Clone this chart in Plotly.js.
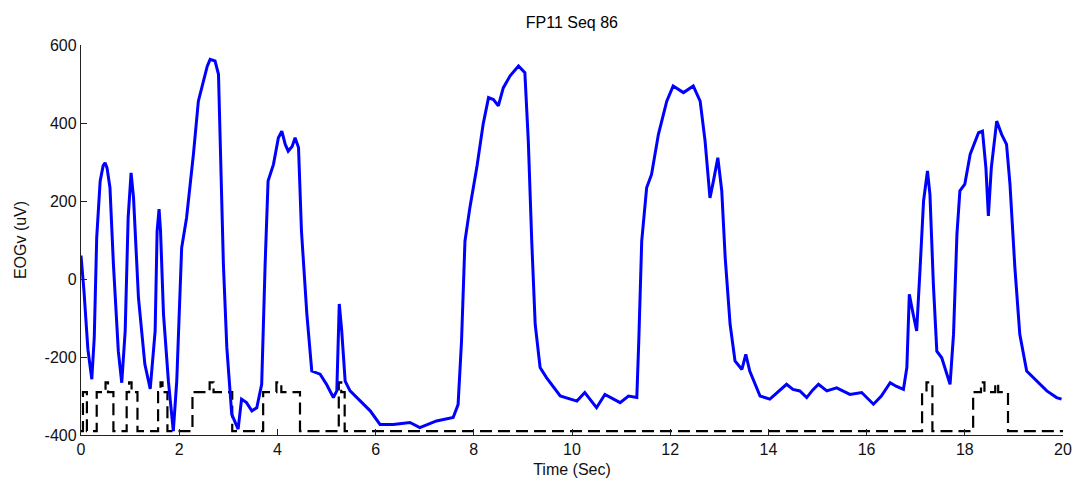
<!DOCTYPE html>
<html>
<head>
<meta charset="utf-8">
<script src="https://cdn.plot.ly/plotly-3.0.1.min.js"></script>
<style>html,body{margin:0;padding:0;background:#fff;}#chart{width:1077px;height:496px;}</style>
</head>
<body>
<div id="chart"></div>
<script>
// EOGv signal (blue)
const eogTime = [0.00,0.01,0.06,0.14,0.22,0.27,0.32,0.39,0.45,0.49,0.53,0.59,0.66,0.76,0.83,0.90,0.96,1.02,1.07,1.17,1.30,1.41,1.51,1.55,1.59,1.62,1.68,1.78,1.88,1.95,2.05,2.15,2.29,2.39,2.49,2.57,2.63,2.73,2.80,2.83,2.90,2.97,3.07,3.20,3.27,3.37,3.48,3.58,3.68,3.75,3.81,3.92,4.02,4.09,4.16,4.22,4.30,4.36,4.43,4.49,4.60,4.70,4.87,5.00,5.14,5.21,5.26,5.31,5.38,5.48,5.68,5.89,6.09,6.36,6.70,6.90,7.24,7.58,7.68,7.75,7.82,7.92,8.06,8.19,8.30,8.40,8.50,8.60,8.74,8.91,9.04,9.11,9.18,9.25,9.35,9.48,9.76,10.10,10.26,10.50,10.67,10.98,11.15,11.32,11.36,11.42,11.52,11.62,11.76,11.93,12.06,12.27,12.47,12.61,12.71,12.81,12.88,12.97,13.05,13.12,13.22,13.32,13.46,13.54,13.62,13.83,14.03,14.20,14.37,14.50,14.64,14.78,14.90,15.02,15.19,15.39,15.55,15.66,15.90,16.14,16.30,16.48,16.60,16.75,16.82,16.87,16.95,17.02,17.09,17.16,17.24,17.29,17.36,17.43,17.53,17.70,17.77,17.84,17.90,18.00,18.11,18.28,18.36,18.43,18.48,18.54,18.65,18.75,18.85,18.92,19.02,19.12,19.26,19.46,19.67,19.87,19.97];
const eogValue = [60,40,-30,-180,-257,-150,106,251,290,298,285,234,38,-185,-266,-133,157,272,208,-48,-218,-282,-133,123,179,123,-90,-262,-390,-262,80,157,320,456,508,545,563,559,525,379,38,-176,-347,-385,-308,-317,-338,-330,-270,38,251,294,362,379,345,328,340,362,337,123,-90,-236,-244,-270,-304,-287,-64,-133,-262,-287,-313,-338,-373,-373,-368,-381,-364,-355,-322,-159,97,183,285,397,465,460,444,490,521,546,529,354,97,-116,-227,-253,-300,-313,-291,-330,-296,-317,-300,-304,-159,97,234,268,371,456,495,478,495,456,354,208,251,311,226,55,-116,-210,-232,-193,-236,-300,-308,-290,-270,-283,-287,-304,-285,-270,-287,-279,-290,-296,-291,-321,-300,-266,-275,-283,-227,-39,-91,-133,29,200,277,217,-14,-185,-202,-270,-142,115,226,243,320,375,379,285,162,285,405,371,345,243,29,-142,-236,-262,-287,-304,-308];

// Stimulus / marker signal (black dashed step)
const markTime = [0,0.04,0.04,0.12,0.12,0.32,0.32,0.50,0.50,0.55,0.55,0.66,0.66,0.93,0.93,0.98,0.98,1.03,1.03,1.15,1.15,1.57,1.57,1.62,1.62,1.66,1.66,1.76,1.76,2.27,2.27,2.62,2.62,2.70,2.70,3.08,3.08,3.71,3.71,3.98,3.98,4.08,4.08,4.46,4.46,5.25,5.25,5.30,5.30,5.37,5.37,17.13,17.13,17.22,17.22,17.34,17.34,18.17,18.17,18.33,18.33,18.40,18.40,18.62,18.62,18.68,18.68,18.88,18.88,20];
const markValue = [-390,-390,-290,-290,-390,-390,-290,-290,-265,-265,-290,-290,-390,-390,-290,-290,-265,-265,-290,-290,-390,-390,-290,-290,-265,-265,-290,-290,-390,-390,-290,-290,-265,-265,-290,-290,-390,-390,-290,-290,-265,-265,-290,-290,-390,-390,-265,-265,-290,-290,-390,-390,-290,-290,-265,-265,-390,-390,-290,-290,-265,-265,-290,-290,-268,-268,-290,-290,-390,-390];

const xTicks = [0,2,4,6,8,10,12,14,16,18,20];
const yTicks = [-400,-200,0,200,400,600];
const titleText = "FP11 Seq 86";
const xTitle = "Time (Sec)";
const yTitle = "EOGv (uV)";

const fontFam = "'Liberation Sans Narrow', 'Arial Narrow', 'Liberation Sans', Arial, sans-serif";

const traces = [
  {x: markTime, y: markValue, type: 'scatter', mode: 'lines',
   line: {color: '#000000', width: 2.2, dash: '12px,6px'}, hoverinfo: 'skip'},
  {x: eogTime, y: eogValue, type: 'scatter', mode: 'lines',
   line: {color: '#0000ff', width: 3}, hoverinfo: 'skip'}
];

const layout = {
  width: 1077, height: 496,
  margin: {l: 81, r: 14, t: 45, b: 61},
  paper_bgcolor: '#ffffff', plot_bgcolor: '#ffffff',
  showlegend: false,
  font: {family: fontFam, color: '#000000', size: 15},
  title: {text: titleText, x: 0.531, xanchor: 'center', y: 0.955, yanchor: 'middle',
          font: {family: fontFam, size: 16, color: '#000000'}},
  xaxis: {range: [0, 20], tickvals: xTicks, ticktext: xTicks.map(String),
          showgrid: false, zeroline: false, showline: true, linecolor: '#222222', linewidth: 1.2,
          ticks: 'inside', ticklen: 6, tickcolor: '#222222', mirror: false,
          tickfont: {family: fontFam, size: 16, color: '#111111'},
          title: {text: xTitle, standoff: 6, font: {family: fontFam, size: 16, color: '#111111'}}},
  yaxis: {range: [-400, 600], tickvals: yTicks, ticktext: yTicks.map(String),
          showgrid: false, zeroline: false, showline: true, linecolor: '#222222', linewidth: 1.2,
          ticks: 'inside', ticklen: 6, tickcolor: '#222222', mirror: false,
          tickfont: {family: fontFam, size: 16, color: '#111111'},
          title: {text: yTitle, standoff: 14, font: {family: fontFam, size: 16, color: '#111111'}}}
};

Plotly.newPlot('chart', traces, layout, {displayModeBar: false, staticPlot: true});
</script>
</body>
</html>
